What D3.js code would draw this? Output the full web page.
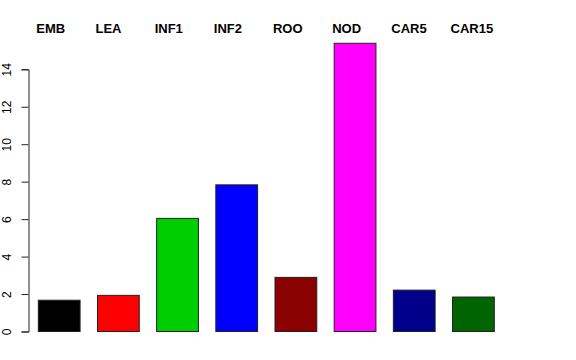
<!DOCTYPE html>
<html>
<head>
<meta charset="utf-8">
<script src="https://cdn.jsdelivr.net/npm/d3@7"></script>
<style>
  body { margin: 0; background: #fff; }
  text { font-family: "Liberation Sans", Arial, sans-serif; }
</style>
</head>
<body>
<svg></svg>
<script>
(function (window, document) {
    const width = 576;
    const height = 360;

    // data
    const categories = ["EMB", "LEA", "INF1", "INF2", "ROO", "NOD", "CAR5", "CAR15"];
    const values = [1.67, 1.93, 6.04, 7.83, 2.89, 15.39, 2.21, 1.84];
    const colors = ["#000000", "#ff0000", "#00cd00", "#0000ff", "#8b0000", "#ff00ff", "#00008b", "#006400"];
    const yTicks = [0, 2, 4, 6, 8, 10, 12, 14];

    let svg = d3.select("svg")
        .attr("width", width)
        .attr("height", height);

    let x = d3.scaleBand()
        .domain(categories)
        .range([38.3, 494.3])
        .paddingInner(0.294)
        .paddingOuter(0);

    let y = d3.scaleLinear()
        .domain([0, 14])
        .range([331.5, 69.3]);

    let data = categories.map((c, i) => ({ name: c, value: values[i], color: colors[i] }));

    svg.selectAll(".bar")
        .data(data)
        .enter()
        .append("rect")
        .attr("class", "bar")
        .attr("x", d => x(d.name))
        .attr("y", d => y(d.value))
        .attr("width", x.bandwidth())
        .attr("height", d => y(0) - y(d.value))
        .attr("fill", d => d.color)
        .attr("stroke", "#222")
        .attr("stroke-width", 1);

    // y axis, R style with rotated labels
    let yAxis = svg.append("g")
        .attr("transform", "translate(28.5, 0)")
        .call(d3.axisLeft(y).tickValues(yTicks).tickSize(7).tickPadding(9));

    yAxis.select(".domain").attr("stroke", "#222");
    yAxis.selectAll(".tick line").attr("stroke", "#222");
    yAxis.selectAll(".tick text")
        .attr("font-size", 12)
        .attr("fill", "#000")
        .attr("x", 0)
        .attr("dy", 0)
        .attr("text-anchor", "middle")
        .attr("transform", "translate(-17.5, 0) rotate(-90)");

    // category labels across the top
    svg.selectAll(".cat")
        .data(data)
        .enter()
        .append("text")
        .attr("class", "cat")
        .attr("x", d => x(d.name) - 2)
        .attr("y", 33)
        .attr("font-size", 13)
        .attr("font-weight", "bold")
        .text(d => d.name);
})(window, document)
</script>
</body>
</html>
